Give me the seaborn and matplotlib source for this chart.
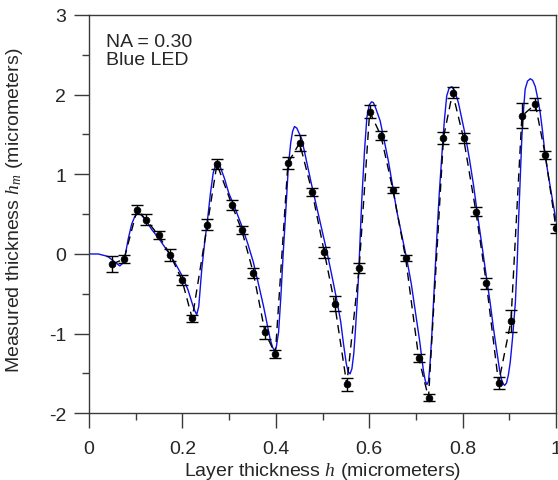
import numpy as np
import pandas as pd
import matplotlib
matplotlib.use("Agg")
import matplotlib.pyplot as plt
import seaborn as sns
from matplotlib.ticker import MultipleLocator

# Measured layer thickness with uncertainties
h_meas = [0.050, 0.075, 0.103, 0.122, 0.149, 0.174, 0.199, 0.221,
          0.2535, 0.274, 0.306, 0.327, 0.352, 0.377, 0.399,
          0.426, 0.451, 0.478, 0.504, 0.526, 0.552, 0.5785,
          0.601, 0.625, 0.651, 0.678, 0.706, 0.727,
          0.759, 0.7785, 0.802, 0.8285, 0.851, 0.877, 0.9035,
          0.927, 0.9557, 0.977, 1.0]
hm_meas = [-0.125, -0.065, 0.556, 0.43, 0.235, -0.012, -0.325, -0.808,
           0.37, 1.13, 0.617, 0.30, -0.238, -0.985, -1.257,
           1.14, 1.395, 0.772, 0.02, -0.625, -1.638, -0.175,
           1.787, 1.487, 0.80, -0.05, -1.305, -1.805,
           1.46, 2.025, 1.455, 0.533, -0.37, -1.62, -0.845,
           1.733, 1.88, 1.245, 0.32]
hm_err = [0.10, 0.05, 0.056, 0.067, 0.05, 0.073, 0.06, 0.048,
          0.063, 0.067, 0.06, 0.052, 0.067, 0.08, 0.05,
          0.077, 0.098, 0.05, 0.071, 0.092, 0.084, 0.065,
          0.086, 0.056, 0.038, 0.042, 0.048, 0.044,
          0.075, 0.069, 0.063, 0.056, 0.067, 0.073, 0.138,
          0.157, 0.077, 0.048, 0.052]

# Model prediction (NA = 0.30, blue LED)
h_model = [0.0, 0.02, 0.04, 0.055, 0.066, 0.075, 0.084, 0.0914, 0.098, 0.104,
           0.112, 0.122, 0.134, 0.15, 0.17, 0.185, 0.199, 0.212, 0.222, 0.227,
           0.2307, 0.235, 0.2415, 0.248, 0.254, 0.26, 0.266, 0.2735, 0.28, 0.29,
           0.299, 0.313, 0.327, 0.34, 0.352, 0.363, 0.3735, 0.382, 0.388, 0.393,
           0.397, 0.401, 0.406, 0.411, 0.416, 0.422, 0.427, 0.432, 0.436, 0.44,
           0.445, 0.4557, 0.466, 0.477, 0.493, 0.509, 0.52, 0.531, 0.539, 0.545,
           0.551, 0.555, 0.559, 0.563, 0.567, 0.57, 0.574, 0.577, 0.584, 0.59,
           0.595, 0.6, 0.605, 0.609, 0.614, 0.6235, 0.632, 0.641, 0.65, 0.659,
           0.67, 0.681, 0.69, 0.6985, 0.708, 0.716, 0.72, 0.7235, 0.727, 0.73,
           0.734, 0.739, 0.745, 0.75, 0.756, 0.761, 0.766, 0.771, 0.777, 0.783,
           0.791, 0.806, 0.815, 0.8235, 0.832, 0.8415, 0.85, 0.859, 0.866, 0.8735,
           0.879, 0.883, 0.887, 0.89, 0.894, 0.898, 0.902, 0.907, 0.913, 0.917,
           0.92, 0.924, 0.927, 0.931, 0.934, 0.939, 0.945, 0.95, 0.9557, 0.961,
           0.966, 0.971, 0.977, 0.984, 0.991, 1.0]
hm_model = [0.0, 0.0, -0.03, -0.10, -0.15, -0.10, 0.19, 0.375, 0.47, 0.51,
            0.49, 0.42, 0.31, 0.19, 0.02, -0.12, -0.27, -0.45, -0.64, -0.72,
            -0.76, -0.66, -0.19, 0.16, 0.44, 0.76, 1.02, 1.16, 1.11, 0.95,
            0.77, 0.57, 0.355, 0.13, -0.105, -0.38, -0.65, -0.90, -1.07, -1.17,
            -1.21, -1.17, -0.98, -0.52, 0.02, 0.60, 1.11, 1.40, 1.54, 1.60,
            1.58, 1.44, 1.16, 0.86, 0.45, 0.04, -0.27, -0.59, -0.85, -1.13,
            -1.38, -1.48, -1.505, -1.44, -1.25, -1.0, -0.63, -0.30, 0.67, 1.30,
            1.715, 1.87, 1.91, 1.90, 1.83, 1.67, 1.43, 1.17, 0.86, 0.54,
            0.23, -0.08, -0.37, -0.71, -1.09, -1.46, -1.59, -1.64, -1.60, -1.40,
            -1.025, -0.45, 0.23, 0.76, 1.275, 1.68, 1.985, 2.08, 2.10, 2.05,
            1.90, 1.485, 1.18, 0.86, 0.49, 0.105, -0.25, -0.61, -0.93, -1.235,
            -1.45, -1.57, -1.63, -1.65, -1.62, -1.52, -1.36, -1.05, -0.61, -0.09,
            0.44, 1.05, 1.485, 1.85, 2.07, 2.17, 2.20, 2.18, 2.10, 1.95,
            1.78, 1.55, 1.23, 0.97, 0.73, 0.42]

meas = pd.DataFrame({"h": h_meas, "hm": hm_meas, "err": hm_err})
model = pd.DataFrame({"h": h_model, "hm": hm_model})

sns.set_style("ticks")
plt.rcParams["font.family"] = ["Liberation Sans", "DejaVu Sans"]
plt.rcParams["mathtext.fontset"] = "custom"
plt.rcParams["mathtext.it"] = "Liberation Serif:italic"
plt.rcParams["mathtext.rm"] = "Liberation Sans"

FS = 14

fig = plt.figure(figsize=(5.58, 4.81), dpi=100)
ax = fig.add_axes([89 / 558, 1 - 414.3 / 481, 467 / 558, 398.3 / 481])

sns.lineplot(data=model, x="h", y="hm", ax=ax, color="#1010e8",
             linewidth=1.0, sort=False, estimator=None, zorder=2)
sns.lineplot(data=meas, x="h", y="hm", ax=ax, color="black",
             linewidth=1.0, sort=False, estimator=None,
             dashes=False, linestyle=(0, (6, 4)), zorder=3)
ax.errorbar(meas["h"], meas["hm"], yerr=meas["err"], fmt="none",
            ecolor="black", elinewidth=1.0, capsize=4.5, capthick=1.0, zorder=4)
sns.scatterplot(data=meas, x="h", y="hm", ax=ax, color="black",
                s=24, edgecolor="black", linewidth=0.5, zorder=5)

ax.set_xlim(0, 1)
ax.set_ylim(-2, 3)
ax.xaxis.set_minor_locator(MultipleLocator(0.1))
ax.yaxis.set_minor_locator(MultipleLocator(0.5))
ax.set_xticks([0, 0.2, 0.4, 0.6, 0.8, 1.0])
ax.set_xticklabels(["0", "0.2", "0.4", "0.6", "0.8", "1"])
ax.set_yticks([-2, -1, 0, 1, 2, 3])
ax.set_yticklabels(["-2", "-1", "0", "1", "2", "3"])

for side in ["left", "bottom", "top", "right"]:
    ax.spines[side].set_visible(True)
    ax.spines[side].set_color("#3a3a3a")
    ax.spines[side].set_linewidth(1.0)
ax.tick_params(which="major", direction="out", length=10.5, width=1.0,
               color="#3a3a3a", labelsize=FS, top=False, right=False)
ax.tick_params(axis="x", which="major", pad=9)
ax.tick_params(axis="y", which="major", pad=6)
ax.tick_params(which="minor", direction="out", length=5.2, width=1.0,
               color="#3a3a3a", top=False, right=False)

ax.set_xlabel("Layer thickness $h$ (micrometers)", fontsize=FS, labelpad=2)
ax.set_ylabel("Measured thickness $h_m$ (micrometers)", fontsize=FS)
ax.yaxis.set_label_coords(-0.137, 0.513)

ax.text(0.036, 0.955, "NA = 0.30\nBlue LED", transform=ax.transAxes,
        ha="left", va="top", fontsize=FS, linespacing=1.1)

fig.savefig("out.png", dpi=100)
